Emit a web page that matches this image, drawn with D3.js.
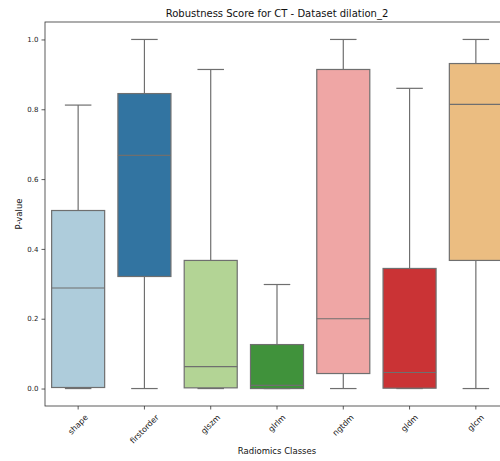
<!DOCTYPE html>
<html>
<head>
<meta charset="utf-8">
<script src="https://cdn.jsdelivr.net/npm/d3@7"></script>
<style>
  body { margin: 0; background: #fff; }
  svg { display: block; font-family: "DejaVu Sans", sans-serif; }
</style>
</head>
<body>
<div id="chart"></div>
<script>
// data
const categories = ["shape", "firstorder", "glszm", "glrlm", "ngtdm", "gldm", "glcm"];
const whiskerLow = [0.0, 0.0, 0.0, 0.0, 0.0, 0.0, 0.0];
const q1 = [0.003, 0.321, 0.002, 0.0, 0.043, 0.001, 0.367];
const median = [0.288, 0.668, 0.063, 0.009, 0.200, 0.046, 0.814];
const q3 = [0.510, 0.845, 0.367, 0.126, 0.914, 0.344, 0.931];
const whiskerHigh = [0.812, 1.0, 0.914, 0.298, 1.0, 0.860, 1.0];
const yTicks = [0.0, 0.2, 0.4, 0.6, 0.8, 1.0];
const palette = ["#a6cee3", "#1f78b4", "#b2df8a", "#33a02c", "#fb9a99", "#e31a1c", "#fdbf6f"];

const width = 500, height = 461;
const margin = {top: 22, left: 45, bottom: 55};
const plotWidth = 464; // axes run a bit past the window edge, like the source
const plotHeight = height - margin.top - margin.bottom;
const lineColor = "#6f6f6f";
const yTickFont = 7;
const xTickFont = 8;

// seaborn desaturates the palette by 0.75
const desat = c => { const h = d3.hsl(c); h.s *= 0.75; return h.formatHex(); };

const svg = d3.select("#chart").append("svg")
    .attr("width", width)
    .attr("height", height);

const x = d3.scaleBand()
    .domain(categories)
    .range([0, plotWidth])
    .paddingInner(0)
    .paddingOuter(0);

const y = d3.scaleLinear()
    .domain([-0.05, 1.05])
    .range([plotHeight, 0]);

const main = svg.append("g")
    .attr("transform", `translate(${margin.left} ${margin.top})`);

// axes frame
main.append("rect")
    .attr("x", 0).attr("y", 0)
    .attr("width", plotWidth).attr("height", plotHeight)
    .attr("fill", "none")
    .attr("stroke", "#333")
    .attr("stroke-width", 0.8);

const boxW = x.bandwidth() * 0.8;
const capW = boxW * 0.5;

const boxes = main.selectAll(".box")
    .data(categories)
    .join("g")
    .attr("class", "box")
    .attr("transform", d => `translate(${x(d) + x.bandwidth() / 2} 0)`);

// whiskers
boxes.append("line")
    .attr("x1", 0).attr("x2", 0)
    .attr("y1", (d, i) => y(whiskerHigh[i]))
    .attr("y2", (d, i) => y(q3[i]))
    .attr("stroke", lineColor).attr("stroke-width", 1.2);
boxes.append("line")
    .attr("x1", 0).attr("x2", 0)
    .attr("y1", (d, i) => y(q1[i]))
    .attr("y2", (d, i) => y(whiskerLow[i]))
    .attr("stroke", lineColor).attr("stroke-width", 1.2);

// caps
boxes.append("line")
    .attr("x1", -capW / 2).attr("x2", capW / 2)
    .attr("y1", (d, i) => y(whiskerHigh[i]))
    .attr("y2", (d, i) => y(whiskerHigh[i]))
    .attr("stroke", lineColor).attr("stroke-width", 1.2);
boxes.append("line")
    .attr("x1", -capW / 2).attr("x2", capW / 2)
    .attr("y1", (d, i) => y(whiskerLow[i]))
    .attr("y2", (d, i) => y(whiskerLow[i]))
    .attr("stroke", lineColor).attr("stroke-width", 1.2);

// box
boxes.append("rect")
    .attr("x", -boxW / 2)
    .attr("width", boxW)
    .attr("y", (d, i) => y(q3[i]))
    .attr("height", (d, i) => y(q1[i]) - y(q3[i]))
    .attr("fill", (d, i) => desat(palette[i]))
    .attr("stroke", lineColor).attr("stroke-width", 1.2);

// median
boxes.append("line")
    .attr("x1", -boxW / 2).attr("x2", boxW / 2)
    .attr("y1", (d, i) => y(median[i]))
    .attr("y2", (d, i) => y(median[i]))
    .attr("stroke", lineColor).attr("stroke-width", 1.2);

// y axis
const yAxis = main.append("g")
    .call(d3.axisLeft(y).tickValues(yTicks).tickFormat(d3.format(".1f")).tickSize(3.5).tickPadding(3));
yAxis.select(".domain").remove();
yAxis.selectAll("line").attr("stroke", "#333").attr("stroke-width", 0.8);
yAxis.selectAll("text")
    .attr("font-size", yTickFont)
    .attr("fill", "#222")
    .attr("font-family", "DejaVu Sans, sans-serif");

// x axis, labels rotated 45deg about their centre (matplotlib ha=center)
const xAxis = main.append("g")
    .attr("transform", `translate(0 ${plotHeight})`)
    .call(d3.axisBottom(x).tickSize(3.5).tickPadding(3));
xAxis.select(".domain").remove();
xAxis.selectAll("line").attr("stroke", "#333").attr("stroke-width", 0.8);
xAxis.selectAll("text")
    .attr("font-size", xTickFont)
    .attr("fill", "#222")
    .attr("font-family", "DejaVu Sans, sans-serif")
    .attr("text-anchor", "middle")
    .attr("dominant-baseline", "central")
    .attr("dy", null)
    .attr("y", null)
    .attr("transform", function () {
        const w = this.getComputedTextLength();
        const h = xTickFont * 1.1;
        const half = (w + h) / (2 * Math.SQRT2);
        return `translate(0 ${7 + half}) rotate(-45)`;
    });

// labels
svg.append("text")
    .attr("x", margin.left + plotWidth / 2)
    .attr("y", 17)
    .attr("text-anchor", "middle")
    .attr("font-size", 10)
    .attr("fill", "#111")
    .text("Robustness Score for CT - Dataset dilation_2");

svg.append("text")
    .attr("x", margin.left + plotWidth / 2)
    .attr("y", 454)
    .attr("text-anchor", "middle")
    .attr("font-size", 8.5)
    .attr("fill", "#111")
    .text("Radiomics Classes");

svg.append("text")
    .attr("transform", `translate(22 ${margin.top + plotHeight / 2}) rotate(-90)`)
    .attr("text-anchor", "middle")
    .attr("font-size", 8.5)
    .attr("fill", "#111")
    .text("P-value");
</script>
</body>
</html>
